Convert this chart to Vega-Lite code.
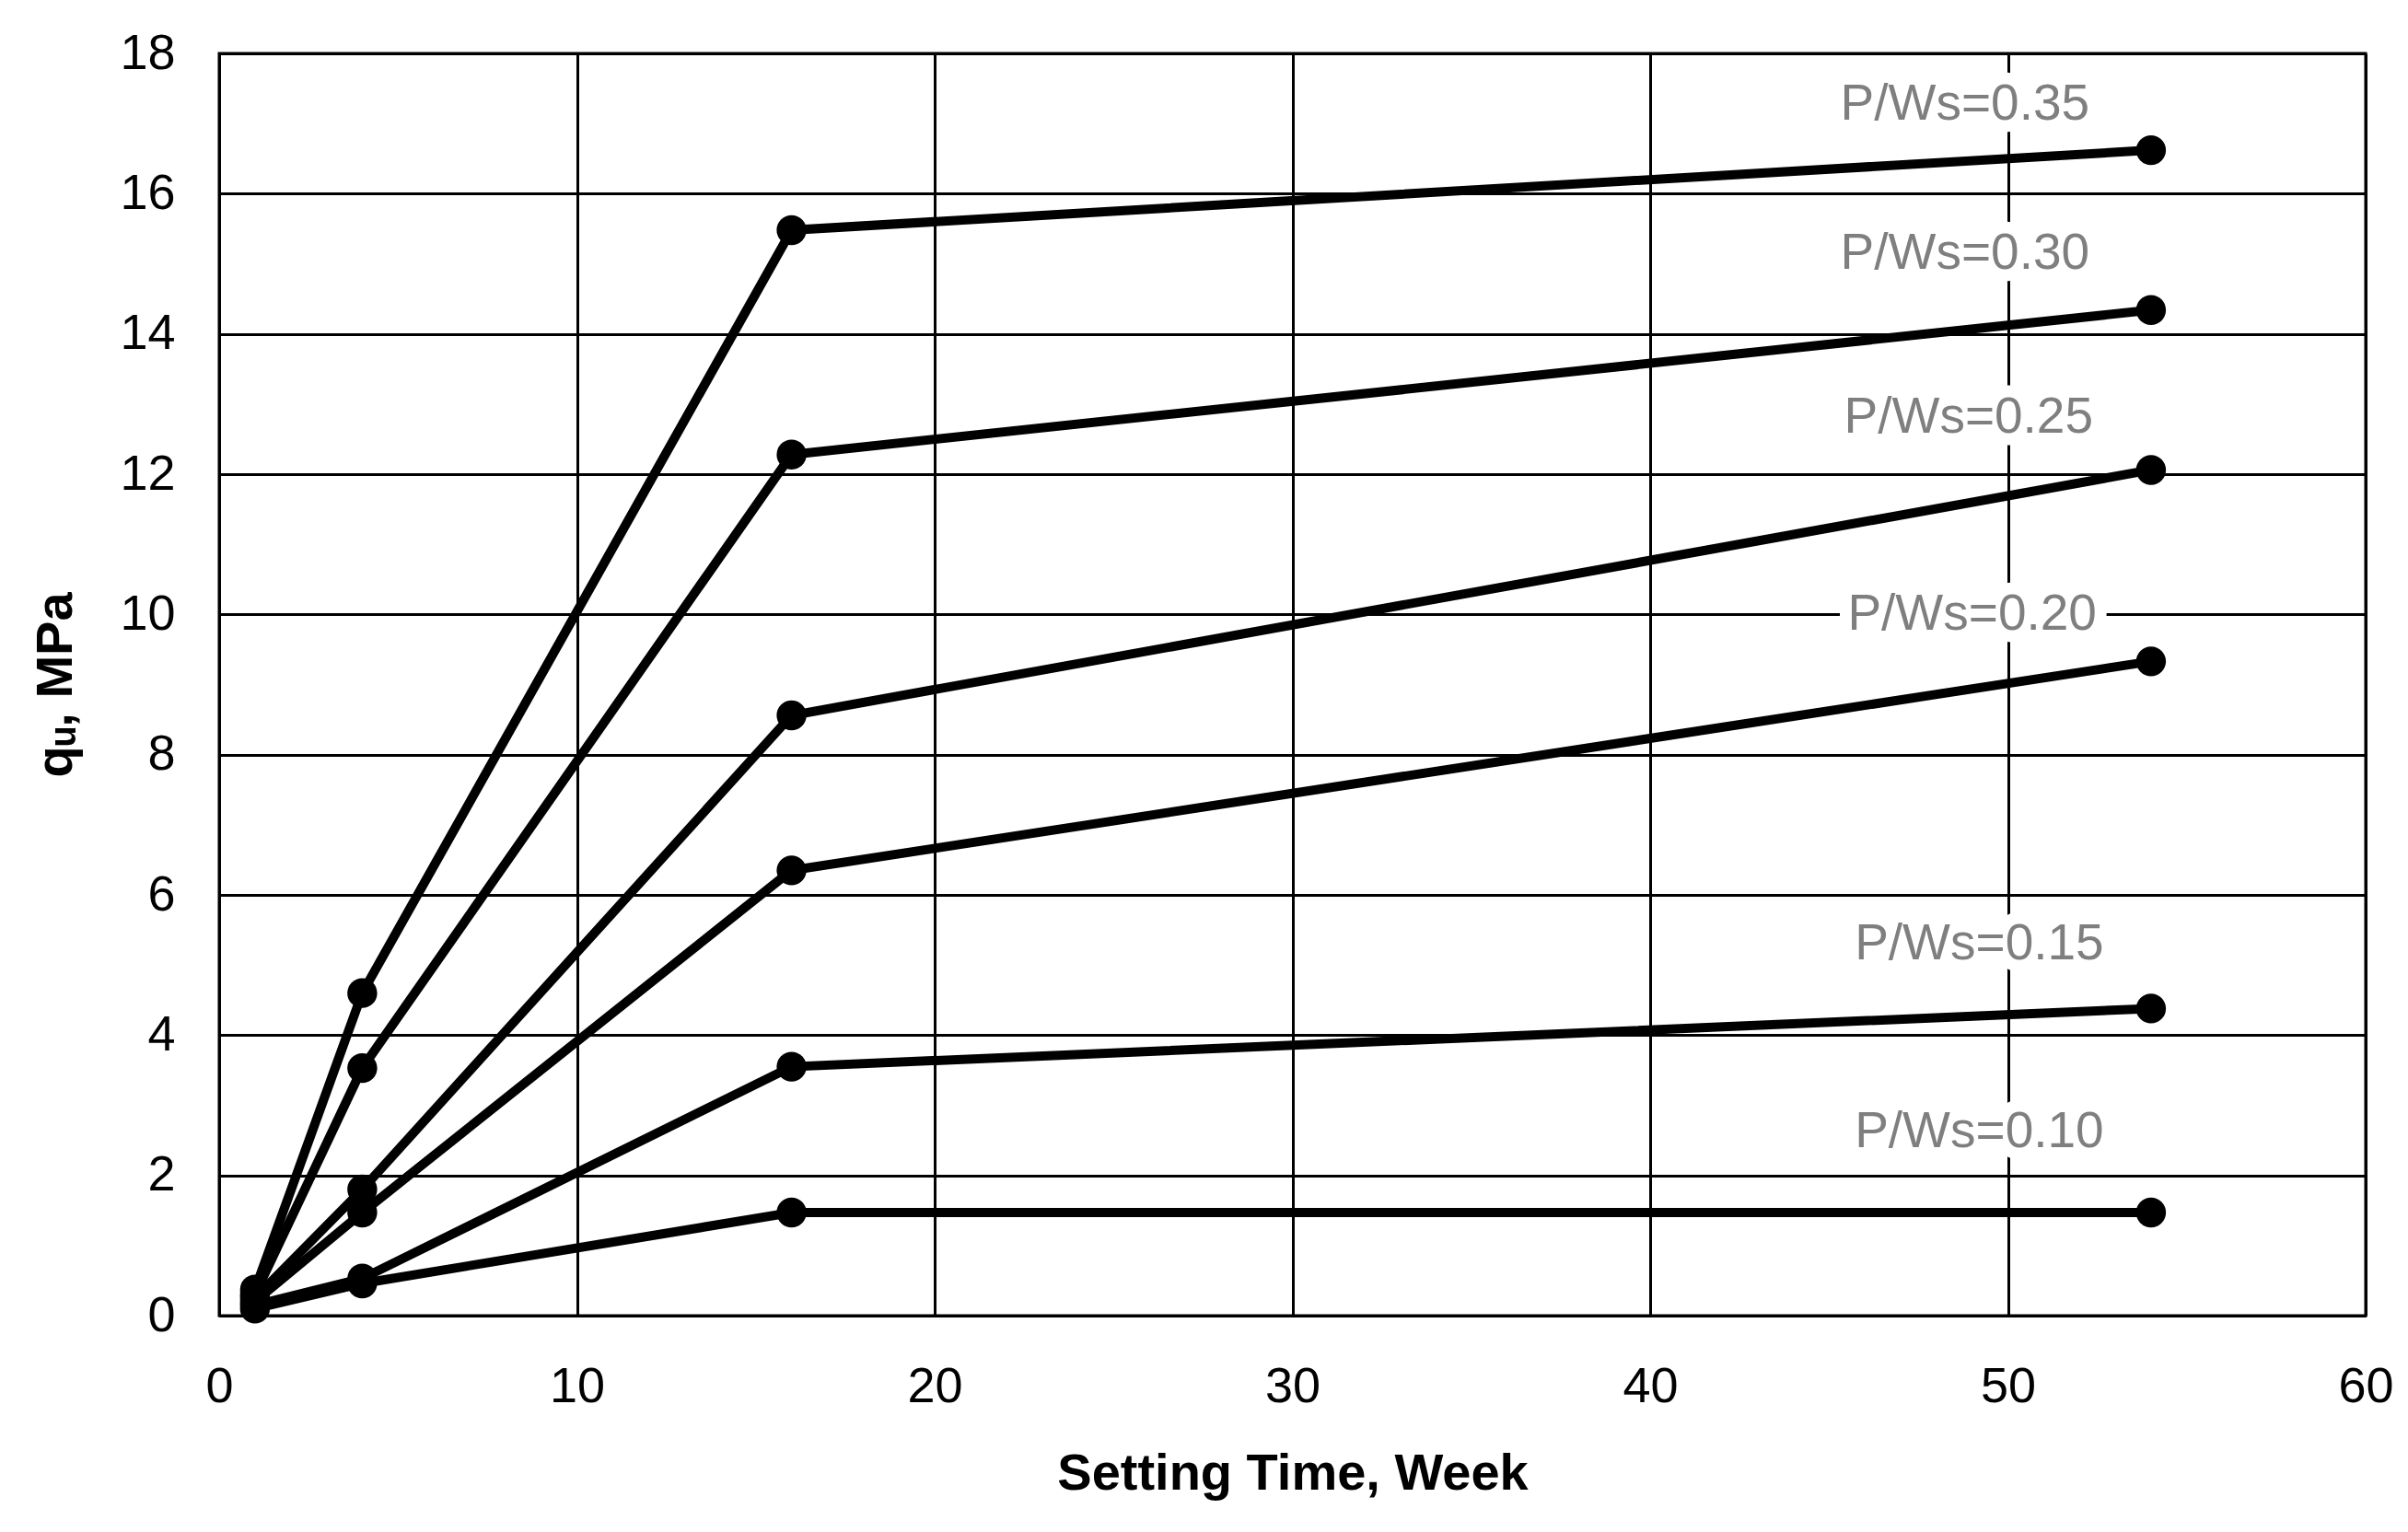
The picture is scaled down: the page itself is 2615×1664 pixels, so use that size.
{
  "$schema": "https://vega.github.io/schema/vega-lite/v6.json",
  "width": 2331,
  "height": 1371,
  "autosize": {"type": "none"},
  "padding": {"left": 238, "top": 58, "right": 46, "bottom": 235},
  "background": "white",
  "config": {
    "view": {"stroke": "black", "strokeWidth": 3},
    "font": "Liberation Sans",
    "axis": {
      "grid": true,
      "gridColor": "black",
      "gridWidth": 3,
      "gridOpacity": 1,
      "domainColor": "black",
      "domainWidth": 3,
      "ticks": false,
      "labelFlush": false,
      "labelFont": "Liberation Sans",
      "labelFontSize": 54,
      "labelColor": "black",
      "titleFont": "Liberation Sans",
      "titleFontSize": 56,
      "titleFontWeight": "bold",
      "titleColor": "black"
    }
  },
  "datasets": {
    "curves": [
      {"series": "0.35", "week": 1, "qu": 0.37},
      {"series": "0.35", "week": 4, "qu": 4.6},
      {"series": "0.35", "week": 16, "qu": 15.48},
      {"series": "0.35", "week": 54, "qu": 16.62},
      {"series": "0.30", "week": 1, "qu": 0.3},
      {"series": "0.30", "week": 4, "qu": 3.53},
      {"series": "0.30", "week": 16, "qu": 12.28},
      {"series": "0.30", "week": 54, "qu": 14.34},
      {"series": "0.25", "week": 1, "qu": 0.25},
      {"series": "0.25", "week": 4, "qu": 1.8},
      {"series": "0.25", "week": 16, "qu": 8.56},
      {"series": "0.25", "week": 54, "qu": 12.06},
      {"series": "0.20", "week": 1, "qu": 0.2},
      {"series": "0.20", "week": 4, "qu": 1.47},
      {"series": "0.20", "week": 16, "qu": 6.35},
      {"series": "0.20", "week": 54, "qu": 9.33},
      {"series": "0.15", "week": 1, "qu": 0.15},
      {"series": "0.15", "week": 4, "qu": 0.53},
      {"series": "0.15", "week": 16, "qu": 3.55},
      {"series": "0.15", "week": 54, "qu": 4.38},
      {"series": "0.10", "week": 1, "qu": 0.1},
      {"series": "0.10", "week": 4, "qu": 0.46},
      {"series": "0.10", "week": 16, "qu": 1.47},
      {"series": "0.10", "week": 54, "qu": 1.47}
    ],
    "labels": [
      {"label": "P/Ws=0.35", "week": 48.8, "qu": 17.28},
      {"label": "P/Ws=0.30", "week": 48.8, "qu": 15.15},
      {"label": "P/Ws=0.25", "week": 48.9, "qu": 12.81},
      {"label": "P/Ws=0.20", "week": 49.0, "qu": 10.0},
      {"label": "P/Ws=0.15", "week": 49.2, "qu": 5.3},
      {"label": "P/Ws=0.10", "week": 49.2, "qu": 2.62}
    ]
  },
  "encoding": {
    "x": {
      "field": "week",
      "type": "quantitative",
      "scale": {"domain": [0, 60], "nice": false},
      "axis": {"values": [0, 10, 20, 30, 40, 50, 60], "title": "Setting Time, Week", "labelPadding": 50, "titlePadding": 40}
    },
    "y": {
      "field": "qu",
      "type": "quantitative",
      "scale": {"domain": [0, 18], "nice": false},
      "axis": {"values": [0, 2, 4, 6, 8, 10, 12, 14, 16, 18], "title": "qᵤ, MPa", "labelPadding": 48, "titlePadding": 40}
    }
  },
  "layer": [
    {
      "data": {"name": "labels"},
      "mark": {"type": "text", "fontSize": 55, "fill": "white", "stroke": "white", "strokeWidth": 26, "strokeJoin": "round", "baseline": "middle", "align": "center"},
      "encoding": {"text": {"field": "label"}}
    },
    {
      "data": {"name": "curves"},
      "mark": {"type": "line", "color": "black", "strokeWidth": 10},
      "encoding": {"detail": {"field": "series"}}
    },
    {
      "data": {"name": "curves"},
      "mark": {"type": "circle", "color": "black", "opacity": 1, "size": 1050},
      "encoding": {}
    },
    {
      "data": {"name": "labels"},
      "mark": {"type": "text", "fontSize": 55, "color": "#7f7f7f", "baseline": "middle", "align": "center"},
      "encoding": {"text": {"field": "label"}}
    }
  ]
}
